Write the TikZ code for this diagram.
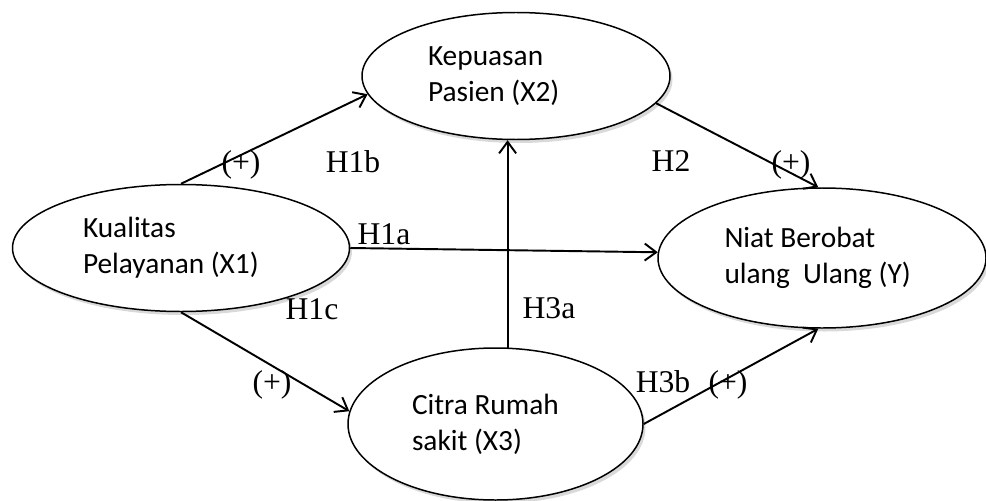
\documentclass[tikz,border=0pt]{standalone}
\usepackage{fontspec}
\setmainfont{Liberation Serif}
\newfontfamily\calibri{Carlito}
\usetikzlibrary{arrows.meta, shapes.geometric, shadows}

\tikzset{
  construct/.style={ellipse, draw, line width=0.85pt, fill=white, align=flush left,
    font=\calibri\fontsize{16.7}{20.5}\selectfont,
    drop shadow={shadow xshift=0.05cm, shadow yshift=-0.07cm, opacity=0.3, fill=gray}},
  path/.style={line width=1.1pt, -{Straight Barb[length=2.3mm, width=3.4mm, line width=1.1pt]}},
  hyp/.style={font=\fontsize{18}{20}\selectfont, inner sep=0pt}
}

\begin{document}
\begin{tikzpicture}
\useasboundingbox (0,0) rectangle (19.72,-10.02);

% constructs
\node[construct, text width=3.92cm, minimum width=6.74cm, minimum height=2.54cm] (x1) at (3.62,-4.96) {Kualitas\\Pelayanan (X1)};
\node[construct, text width=3.52cm, minimum width=6.16cm, minimum height=2.54cm] (x2) at (10.32,-1.52) {Kepuasan\\Pasien (X2)};
\node[construct, text width=3.34cm, minimum width=5.90cm, minimum height=3.04cm] (x3) at (9.91,-8.48) {Citra Rumah\\sakit (X3)};
\node[construct, text width=3.90cm, minimum width=6.56cm, minimum height=2.80cm] (y) at (16.44,-5.16) {Niat Berobat\\ulang\ \ Ulang (Y)};

% paths
\draw[path] (x1.north) -- (x2.187);
\draw[path] (x1.east) -- (y.178);
\draw[path] (x1.south) -- (x3.175);
\draw[path] (x3.81) -- (x3.81 |- x2.south);
\draw[path] (x2.349) -- (y.93);
\draw[path] (x3.east) -- (y.267);

% hypotheses
\draw (4.82,-3.30) node[hyp] (p1b) {(+)};
\draw (7.06,-3.24) node[hyp] (h1b) {H1b};
\draw (13.42,-3.22) node[hyp] (h2) {H2};
\draw (15.82,-3.30) node[hyp] (p2) {(+)};
\draw (7.68,-4.68) node[hyp] (h1a) {H1a};
\draw (6.24,-6.18) node[hyp] (h1c) {H1c};
\draw (10.98,-6.16) node[hyp] (h3a) {H3a};
\draw (5.44,-7.70) node[hyp] (p1c) {(+)};
\draw (13.26,-7.64) node[hyp] (h3b) {H3b};
\draw (14.56,-7.70) node[hyp] (p3b) {(+)};
\end{tikzpicture}
\end{document}
